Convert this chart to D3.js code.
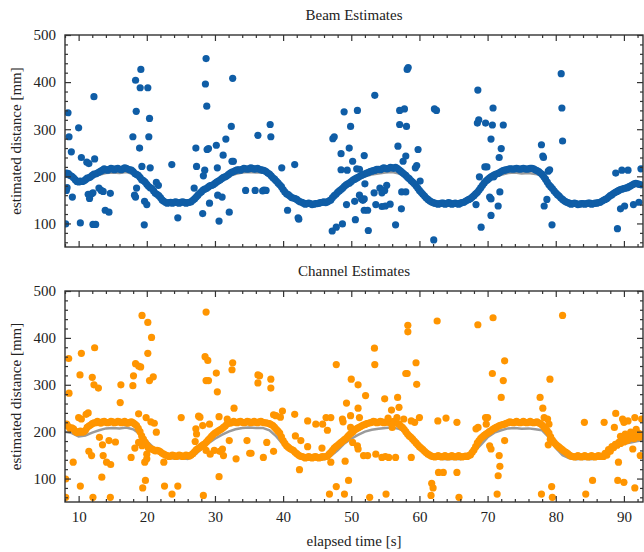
<!DOCTYPE html>
<html>
<head>
<meta charset="utf-8">
<script src="https://cdn.jsdelivr.net/npm/d3@7"></script>
<style>
  body { margin: 0; background: #fff; }
  svg { display: block; font-family: "Liberation Serif", "Times New Roman", serif; }
</style>
</head>
<body>
<div id="chart"></div>
<script>
// ground truth (gray), one value per second starting at 8 s
const truthStart = 8, truthStep = 1;
const truth = [200, 197, 190, 192, 198, 203, 207, 208, 207, 209, 205, 195, 180, 166, 153, 145, 143, 144, 142, 150,
  163, 175, 185, 193, 200, 205, 208, 209, 208, 208, 203, 190, 173, 160, 150, 143, 141, 142, 141, 148,
  160, 175, 185, 193, 200, 204, 206, 208, 209, 206, 200, 186, 170, 155, 145, 142, 141, 142, 141, 146,
  157, 172, 188, 198, 203, 207, 208, 206, 207, 205, 203, 188, 165, 150, 143, 141, 142, 141, 142, 147,
  158, 168, 174, 177, 180, 182];

// dense estimates, one value every 0.5 s starting at 8 s, plus the in-between samples (8.25 s, 8.75 s, ...)
const trackStart = 8, trackStep = 0.5;
const beamTrack = [204, 206, 200, 193, 188, 189, 193, 197, 202, 205, 209, 213, 214, 215, 216, 216, 215, 216, 217, 214,
  210, 204, 198, 191, 183, 176, 169, 162, 155, 147, 143, 145, 145, 144, 145, 145, 144, 146, 152, 160,
  167, 173, 177, 181, 185, 190, 195, 199, 204, 209, 212, 214, 215, 216, 216, 217, 216, 215, 213, 210,
  205, 197, 190, 182, 172, 163, 158, 154, 151, 146, 143, 142, 142, 141, 142, 144, 146, 146, 150, 159,
  166, 172, 179, 184, 189, 194, 198, 202, 205, 208, 211, 213, 215, 216, 217, 217, 218, 219, 214, 208,
  202, 195, 188, 180, 170, 162, 154, 148, 144, 142, 142, 143, 142, 143, 142, 142, 143, 145, 149, 153,
  159, 166, 176, 186, 193, 199, 203, 206, 210, 213, 215, 216, 216, 216, 216, 216, 216, 217, 214, 210,
  204, 194, 182, 174, 165, 158, 151, 146, 143, 142, 142, 141, 142, 142, 143, 142, 143, 145, 149, 153,
  159, 164, 168, 172, 174, 176, 180, 184, 184, 182];
const beamTrackMid = [207, 202, 197, 189, 190, 190, 196, 199, 205, 207, 211, 216, 213, 217, 214, 217, 214, 218, 215, 213,
  206, 202, 193, 188, 179, 174, 164, 159, 150, 145, 144, 143, 146, 143, 146, 143, 145, 149, 156, 164,
  171, 174, 180, 182, 188, 192, 198, 201, 207, 210, 214, 213, 217, 215, 218, 215, 217, 214, 212, 207,
  201, 194, 186, 178, 167, 161, 155, 153, 148, 145, 141, 143, 140, 142, 143, 145, 144, 148, 155, 162,
  169, 175, 182, 186, 192, 196, 200, 204, 207, 210, 212, 215, 214, 218, 216, 219, 217, 217, 211, 205,
  198, 191, 184, 175, 166, 158, 151, 146, 143, 141, 143, 141, 144, 141, 143, 141, 144, 147, 151, 156,
  163, 171, 181, 190, 196, 201, 205, 208, 212, 214, 216, 215, 217, 215, 217, 215, 217, 216, 212, 207,
  199, 188, 178, 169, 161, 154, 148, 144, 141, 143, 140, 142, 141, 143, 141, 143, 144, 147, 151, 156,
  161, 166, 170, 173, 175, 178, 182, 185, 183];
const channelTrack = [214, 211, 208, 201, 199, 199, 203, 212, 217, 219, 220, 221, 220, 220, 221, 220, 221, 220, 219, 220,
  219, 213, 200, 184, 172, 164, 161, 160, 157, 152, 149, 148, 149, 148, 149, 148, 149, 150, 157, 164,
  169, 174, 182, 190, 197, 202, 206, 212, 219, 220, 220, 221, 220, 220, 221, 220, 220, 221, 220, 219,
  217, 213, 205, 197, 181, 170, 164, 160, 153, 148, 146, 145, 145, 146, 145, 145, 146, 148, 156, 165,
  171, 177, 183, 190, 197, 204, 208, 212, 215, 218, 220, 221, 220, 221, 220, 220, 221, 220, 216, 209,
  200, 191, 184, 176, 168, 162, 155, 150, 147, 147, 147, 147, 147, 147, 147, 147, 147, 147, 147, 151,
  161, 176, 186, 192, 197, 202, 207, 211, 214, 216, 219, 220, 220, 220, 220, 220, 220, 220, 220, 219,
  214, 206, 197, 182, 173, 167, 161, 156, 150, 147, 147, 147, 147, 147, 147, 147, 147, 147, 147, 150,
  158, 166, 171, 175, 178, 182, 186, 185, 190, 194];
const channelTrackMid = [216, 207, 206, 198, 201, 200, 209, 214, 219, 222, 218, 222, 219, 222, 219, 222, 219, 222, 218, 221,
  216, 207, 191, 178, 167, 163, 159, 159, 154, 150, 147, 150, 147, 150, 147, 150, 148, 153, 161, 166,
  172, 178, 186, 194, 199, 204, 209, 216, 218, 222, 219, 222, 219, 222, 219, 222, 219, 222, 219, 218,
  215, 209, 201, 189, 175, 167, 162, 156, 150, 147, 144, 147, 144, 147, 144, 147, 147, 152, 160, 168,
  174, 180, 186, 194, 200, 206, 210, 214, 217, 219, 222, 219, 222, 219, 222, 219, 222, 218, 212, 205,
  195, 188, 180, 172, 165, 158, 152, 148, 146, 149, 146, 149, 146, 149, 146, 149, 146, 148, 149, 156,
  168, 181, 189, 195, 200, 205, 209, 213, 215, 218, 221, 219, 222, 219, 222, 219, 222, 219, 221, 217,
  210, 202, 189, 177, 170, 164, 158, 153, 148, 146, 149, 146, 149, 146, 149, 146, 149, 148, 154, 162,
  168, 173, 177, 180, 184, 187, 188, 192, 196];

// scattered estimates [time s, distance mm]
const beamOutliers = [[8.44, 335], [8.59, 284], [8.93, 252], [8.2, 170], [8.3, 176], [9.08, 156], [8.1, 99], [10.0, 303],
  [10.25, 101], [10.4, 240], [11.2, 230], [11.5, 227], [12.25, 369], [12.35, 237], [11.4, 162], [11.6, 153], [11.9, 163],
  [12.1, 165], [12.1, 98], [12.5, 98], [12.98, 175], [13.3, 170], [13.6, 168], [13.9, 128], [14.45, 124], [14.65, 164],
  [17.96, 284], [18.35, 404], [18.45, 338], [19.13, 427], [19.03, 388], [18.94, 260], [19.28, 221], [20.15, 388],
  [20.4, 323], [20.3, 284], [20.5, 218], [18.2, 160], [18.35, 156], [18.5, 175], [19.67, 147], [20.0, 140], [19.63, 97],
  [21.4, 187], [21.7, 181], [23.67, 225], [24.55, 112], [27.2, 260], [27.3, 221], [26.95, 175], [28.2, 121], [28.5, 213],
  [28.7, 450], [28.6, 396], [28.8, 349], [28.85, 257], [29.05, 259], [28.3, 201], [29.2, 143], [30.2, 266], [30.35, 218],
  [30.6, 105], [31.2, 245], [31.6, 279], [30.4, 160], [31.05, 156], [32.1, 124], [32.4, 306], [32.6, 408], [32.5, 232],
  [32.7, 232], [34.5, 170], [35.9, 170], [36.3, 287], [37.0, 169], [37.2, 171], [37.5, 170], [38.1, 310], [38.2, 284],
  [39.8, 218], [41.7, 225], [40.65, 128], [42.2, 112], [42.3, 109], [47.2, 84], [47.8, 92], [48.7, 99], [47.3, 280],
  [47.5, 284], [48.95, 337], [50.9, 340], [49.9, 306], [48.5, 248], [49.7, 260], [50.2, 232], [51.9, 244], [48.5, 214],
  [49.4, 213], [50.8, 216], [51.2, 215], [49.3, 140], [50.5, 147], [50.6, 108], [51.2, 160], [51.5, 152], [51.7, 149],
  [51.9, 152], [52.0, 184], [51.9, 128], [52.4, 128], [52.5, 85], [53.45, 372], [53.35, 165], [53.6, 140], [54.2, 175],
  [54.5, 165], [54.9, 170], [55.2, 181], [54.5, 136], [55.0, 137], [55.7, 141], [56.5, 97], [57.1, 340], [57.8, 343],
  [57.1, 310], [58.1, 306], [56.85, 264], [58.2, 427], [58.35, 431], [57.4, 167], [58.0, 167], [57.35, 131], [58.0, 243],
  [57.6, 232], [59.4, 218], [59.6, 223], [59.8, 257], [60.1, 190], [62.1, 65], [62.2, 343], [62.5, 340], [68.57, 383],
  [68.5, 313], [68.7, 320], [69.7, 313], [70.8, 345], [70.7, 309], [72.3, 309], [70.5, 279], [72.0, 259], [71.7, 240],
  [69.6, 220], [69.9, 220], [68.8, 199], [70.9, 199], [68.3, 140], [70.3, 156], [70.5, 152], [71.8, 167], [71.55, 137],
  [70.5, 117], [69.05, 92], [77.9, 267], [78.1, 243], [78.2, 240], [78.9, 211], [79.1, 214], [78.3, 137], [78.7, 151],
  [79.45, 97], [80.8, 418], [80.9, 345], [81.0, 275], [88.8, 207], [89.7, 213], [90.6, 213], [89.5, 131], [90.1, 137],
  [91.4, 140], [92.2, 145], [89.05, 89], [92.5, 216]];
const channelOutliers = [[8.54, 356], [8.59, 282], [8.1, 99], [8.1, 60], [9.2, 135], [10.4, 367], [10.2, 321], [10.25, 84],
  [10.0, 230], [10.4, 227], [11.1, 237], [11.4, 240], [12.35, 379], [12.0, 316], [12.25, 300], [12.9, 293], [11.5, 158],
  [11.9, 149], [12.1, 60], [13.05, 188], [13.5, 172], [13.6, 149], [13.4, 103], [14.1, 135], [14.7, 130], [14.45, 181],
  [15.4, 178], [14.65, 60], [16.2, 300], [16.1, 262], [17.7, 145], [17.96, 298], [18.05, 319], [18.35, 345], [18.8, 340],
  [19.1, 338], [18.8, 238], [19.3, 448], [20.15, 433], [20.7, 401], [20.15, 367], [20.4, 309], [20.95, 317], [19.3, 170],
  [18.25, 165], [18.8, 177], [19.9, 230], [20.6, 221], [21.1, 218], [21.4, 199], [20.2, 166], [20.0, 152], [19.7, 135],
  [20.0, 142], [19.4, 80], [19.8, 96], [22.6, 84], [22.5, 135], [23.7, 67], [24.55, 84], [25.05, 230], [27.1, 179],
  [27.2, 206], [27.3, 195], [28.2, 213], [27.6, 233], [27.8, 231], [28.3, 64], [28.7, 455], [28.55, 360], [28.95, 352],
  [28.7, 309], [29.05, 309], [30.2, 325], [30.35, 285], [29.3, 152], [29.9, 160], [31.1, 163], [30.6, 232], [31.25, 149],
  [30.7, 158], [29.2, 216], [28.7, 160], [30.6, 104], [32.6, 347], [32.5, 332], [32.8, 250], [31.8, 227], [32.1, 181],
  [33.1, 142], [34.7, 181], [35.1, 154], [36.3, 321], [36.3, 304], [36.55, 319], [38.2, 312], [38.2, 293], [35.3, 154],
  [37.1, 145], [37.6, 177], [38.6, 158], [38.6, 236], [38.95, 234], [39.9, 244], [39.6, 231], [41.7, 237], [41.8, 191],
  [42.6, 181], [42.4, 119], [43.6, 223], [44.8, 216], [45.8, 216], [46.3, 230], [47.0, 230], [46.5, 203], [43.6, 168],
  [45.7, 165], [47.0, 135], [46.8, 67], [47.8, 83], [49.0, 67], [49.6, 96], [49.1, 137], [47.8, 343], [48.7, 227],
  [48.8, 221], [49.9, 234], [49.3, 261], [50.0, 312], [51.0, 300], [52.1, 277], [51.0, 250], [51.2, 230], [49.9, 209],
  [50.2, 177], [50.9, 170], [51.0, 163], [51.8, 149], [52.4, 149], [53.4, 378], [53.45, 343], [52.7, 60], [53.6, 152],
  [54.9, 270], [55.1, 67], [54.5, 145], [55.0, 147], [55.5, 145], [56.5, 145], [55.9, 246], [55.4, 229], [56.0, 209],
  [56.8, 273], [57.0, 252], [56.7, 230], [57.7, 227], [58.3, 427], [58.3, 413], [58.2, 324], [58.0, 324], [59.6, 301],
  [59.5, 347], [58.8, 145], [60.0, 230], [59.3, 220], [58.8, 223], [62.6, 436], [62.7, 223], [63.9, 229], [62.8, 113],
  [63.5, 113], [65.5, 113], [61.8, 90], [62.0, 80], [61.7, 64], [65.5, 220], [65.8, 60], [68.57, 428], [70.8, 443],
  [72.5, 351], [70.7, 324], [72.3, 309], [72.0, 273], [68.3, 206], [68.6, 209], [69.7, 230], [70.0, 230], [69.8, 216],
  [70.3, 170], [70.5, 163], [72.5, 181], [71.7, 149], [71.8, 126], [71.55, 106], [71.4, 67], [77.7, 273], [78.1, 250],
  [78.3, 230], [78.8, 227], [79.0, 216], [79.15, 312], [78.9, 172], [79.2, 184], [77.9, 67], [79.4, 83], [79.5, 60],
  [81.0, 448], [84.2, 220], [85.4, 96], [84.4, 67], [87.1, 220], [88.8, 239], [88.6, 209], [89.8, 227], [90.0, 220],
  [90.6, 223], [91.6, 230], [92.6, 227], [89.2, 135], [89.1, 96], [90.0, 92], [91.6, 80], [91.3, 163], [92.4, 149],
  [91.0, 199], [90.5, 181], [89.5, 190], [90.2, 195], [91.8, 205], [92.3, 188]];

const xTicks = [10, 20, 30, 40, 50, 60, 70, 80, 90];
const xMinorTicks = [8, 12, 14, 16, 18, 22, 24, 26, 28, 32, 34, 36, 38, 42, 44, 46, 48, 52, 54, 56, 58,
  62, 64, 66, 68, 72, 74, 76, 78, 82, 84, 86, 88, 92];
const yTicks = [100, 200, 300, 400, 500];
const yMinorTicks = [60, 80, 120, 140, 160, 180, 220, 240, 260, 280, 320, 340, 360, 380, 420, 440, 460, 480];

const width = 644;
const height = 552;
const left = 65, right = 643;

const svg = d3.select("#chart")
  .append("svg")
  .attr("width", width)
  .attr("height", height);

const x = d3.scaleLinear().domain([8, 92.8]).range([left, right]);

const panels = [
  { title: "Beam Estimates", top: 35, bottom: 247, track: beamTrack, mid: beamTrackMid, outliers: beamOutliers, color: "#0f5da6", labels: false },
  { title: "Channel Estimates", top: 291, bottom: 502, track: channelTrack, mid: channelTrackMid, outliers: channelOutliers, color: "#ff9500", labels: true }
];

panels.forEach((p, i) => {
  const y = d3.scaleLinear().domain([50, 500]).range([p.bottom, p.top]);
  const g = svg.append("g");

  g.append("clipPath").attr("id", "clip" + i)
    .append("rect")
    .attr("x", left).attr("y", p.top)
    .attr("width", right - left).attr("height", p.bottom - p.top);

  const plot = g.append("g").attr("clip-path", `url(#clip${i})`);

  // gray ground truth line
  const line = d3.line()
    .x((d, j) => x(truthStart + j * truthStep))
    .y(d => y(d));
  plot.append("path")
    .datum(truth)
    .attr("d", line)
    .attr("fill", "none")
    .attr("stroke", "#9a9a9a")
    .attr("stroke-width", 2.5);

  const pts = p.track.map((v, j) => [trackStart + j * trackStep, v])
    .concat(p.mid.map((v, j) => [trackStart + trackStep / 2 + j * trackStep, v]))
    .concat(p.outliers);
  plot.selectAll("circle")
    .data(pts)
    .enter()
    .append("circle")
    .attr("cx", d => x(d[0]))
    .attr("cy", d => y(d[1]))
    .attr("r", 3.6)
    .attr("fill", p.color);

  // axes with inward ticks
  const axes = [
    [d3.axisBottom(x).tickValues(xTicks).tickSize(-6).tickPadding(9).tickFormat(p.labels ? d3.format("d") : ""), `translate(0,${p.bottom})`],
    [d3.axisBottom(x).tickValues(xMinorTicks).tickSize(-3).tickFormat(""), `translate(0,${p.bottom})`],
    [d3.axisTop(x).tickValues(xTicks).tickSize(-6).tickFormat(""), `translate(0,${p.top})`],
    [d3.axisTop(x).tickValues(xMinorTicks).tickSize(-3).tickFormat(""), `translate(0,${p.top})`],
    [d3.axisLeft(y).tickValues(yTicks).tickSize(-6).tickPadding(9).tickFormat(d3.format("d")), `translate(${left},0)`],
    [d3.axisLeft(y).tickValues(yMinorTicks).tickSize(-3).tickFormat(""), `translate(${left},0)`],
    [d3.axisRight(y).tickValues(yTicks).tickSize(-6).tickFormat(""), `translate(${right},0)`],
    [d3.axisRight(y).tickValues(yMinorTicks).tickSize(-3).tickFormat(""), `translate(${right},0)`]
  ];
  axes.forEach(([ax, tr]) => {
    const a = g.append("g").attr("transform", tr).call(ax);
    a.select(".domain").remove();
    a.selectAll("line").attr("stroke", "#333").attr("stroke-width", 1.2);
    a.selectAll("text")
      .attr("fill", "#222")
      .style("font-family", "'Liberation Serif', serif")
      .style("font-size", "15px");
  });

  g.append("rect")
    .attr("x", left).attr("y", p.top)
    .attr("width", right - left).attr("height", p.bottom - p.top)
    .attr("fill", "none")
    .attr("stroke", "#333")
    .attr("stroke-width", 1.4);

  g.append("text")
    .attr("x", (left + right) / 2)
    .attr("y", p.top - 15)
    .attr("text-anchor", "middle")
    .attr("fill", "#222")
    .style("font-size", "15px")
    .text(p.title);

  g.append("text")
    .attr("transform", "rotate(-90)")
    .attr("x", -(p.top + p.bottom) / 2)
    .attr("y", 21)
    .attr("text-anchor", "middle")
    .attr("fill", "#222")
    .style("font-size", "15px")
    .text("estimated distance [mm]");
});

svg.append("text")
  .attr("x", (left + right) / 2)
  .attr("y", 546)
  .attr("text-anchor", "middle")
  .attr("fill", "#222")
  .style("font-size", "15px")
  .text("elapsed time [s]");
</script>
</body>
</html>
